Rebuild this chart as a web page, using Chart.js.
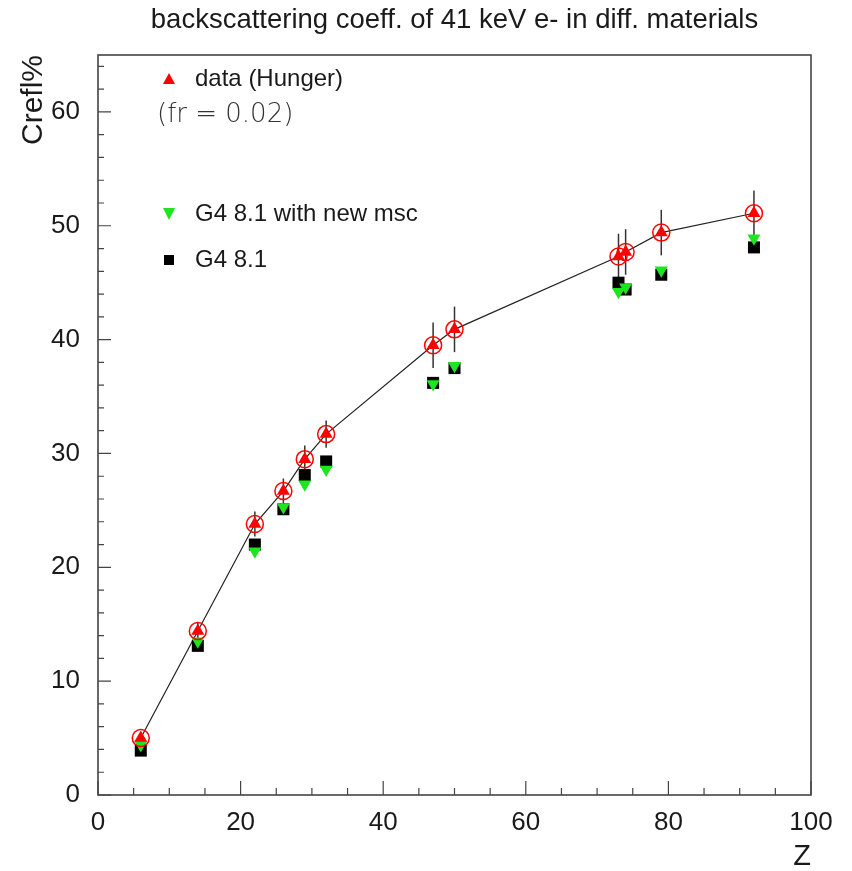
<!DOCTYPE html>
<html>
<head>
<meta charset="utf-8">
<script src="https://cdn.jsdelivr.net/npm/chart.js@4/dist/chart.umd.min.js"></script>
<style>
  html, body { margin: 0; padding: 0; background: #ffffff; }
  #wrap { width: 852px; height: 871px; }
</style>
</head>
<body>
<div id="wrap"><canvas id="c" width="852" height="871"></canvas></div>
<script>
// ---- data ----
const Z = [6, 14, 22, 26, 29, 32, 47, 50, 73, 74, 79, 92];
const dataHunger = [5.0, 14.4, 23.8, 26.7, 29.5, 31.7, 39.5, 40.9, 47.3, 47.7, 49.4, 51.1];
const dataErr    = [0.5, 0.7, 1.1, 1.1, 1.2, 1.2, 2.0, 2.0, 2.0, 2.0, 2.0, 2.0];
const g4NewMsc   = [4.4, 13.5, 21.4, 25.3, 27.3, 28.6, 36.1, 37.7, 44.2, 44.6, 46.1, 48.9];
const g4Old      = [3.9, 13.1, 22.0, 25.1, 28.1, 29.3, 36.2, 37.5, 45.0, 44.4, 45.7, 48.1];
const xTicks = [0, 20, 40, 60, 80, 100];
const yTicks = [0, 10, 20, 30, 40, 50, 60];
const titleText = 'backscattering coeff. of 41 keV e- in diff. materials';
const legendLabels = ['data (Hunger)', '(fr = 0.02)', 'G4 8.1 with new msc', 'G4 8.1'];

const pts = (ys) => Z.map((z, i) => ({x: z, y: ys[i]}));
const FONT = '"Liberation Sans", Arial, Helvetica, sans-serif';
const RED = '#ff0000', GREEN = '#1ee61e', BLACK = '#000000';

const framePlugin = {
  id: 'frame',
  beforeDatasetsDraw(chart) {
    const {ctx} = chart;
    const xs = chart.scales.x, ys = chart.scales.y;
    // error bars
    ctx.save();
    ctx.strokeStyle = '#333';
    ctx.lineWidth = 1.5;
    Z.forEach((z, i) => {
      const px = xs.getPixelForValue(z);
      ctx.beginPath();
      ctx.moveTo(px, ys.getPixelForValue(dataHunger[i] - dataErr[i]));
      ctx.lineTo(px, ys.getPixelForValue(dataHunger[i] + dataErr[i]));
      ctx.stroke();
    });
    ctx.restore();
  },
  afterDraw(chart) {
    const {ctx, chartArea: a} = chart;
    const xs = chart.scales.x, ys = chart.scales.y;
    ctx.save();
    ctx.strokeStyle = '#444';
    ctx.lineWidth = 1.6;
    ctx.strokeRect(a.left, a.top, a.right - a.left, a.bottom - a.top);
    ctx.lineWidth = 1.2;
    ctx.beginPath();
    for (let v = 0; v <= 100; v += 5) {
      const px = xs.getPixelForValue(v);
      const len = (v % 20 === 0) ? 14 : 7;
      ctx.moveTo(px, a.bottom);
      ctx.lineTo(px, a.bottom - len);
    }
    for (let v = 0; v <= 64; v += 2) {
      const py = ys.getPixelForValue(v);
      const len = (v % 10 === 0) ? 13 : 6;
      ctx.moveTo(a.left, py);
      ctx.lineTo(a.left + len, py);
    }
    ctx.stroke();

    // legend
    const lx = a.left + 71, tx = a.left + 97;
    const rows = [a.top + 24, a.top + 60, a.top + 159, a.top + 205];
    ctx.fillStyle = RED;
    ctx.beginPath();
    ctx.moveTo(lx, rows[0] - 6); ctx.lineTo(lx + 6, rows[0] + 5); ctx.lineTo(lx - 6, rows[0] + 5);
    ctx.closePath(); ctx.fill();
    ctx.fillStyle = GREEN;
    ctx.beginPath();
    ctx.moveTo(lx - 6, rows[2] - 6); ctx.lineTo(lx + 6, rows[2] - 6); ctx.lineTo(lx, rows[2] + 6);
    ctx.closePath(); ctx.fill();
    ctx.fillStyle = BLACK;
    ctx.fillRect(lx - 5, rows[3] - 5, 10, 10);

    ctx.fillStyle = '#1a1a1a';
    ctx.textBaseline = 'middle';
    ctx.textAlign = 'left';
    ctx.font = '24px ' + FONT;
    ctx.fillText(legendLabels[0], tx, rows[0]);
    ctx.fillText(legendLabels[2], tx, rows[2]);
    ctx.fillText(legendLabels[3], tx, rows[3]);
    ctx.font = '200 26px "DejaVu Sans", sans-serif';
    ctx.fillStyle = '#333';
    ctx.fillText(legendLabels[1], a.left + 59, rows[1]);
    ctx.restore();
  }
};

new Chart(document.getElementById('c'), {
  type: 'scatter',
  data: {
    datasets: [
      { label: legendLabels[0], data: pts(dataHunger), pointStyle: 'triangle', pointRadius: 7.5,
        backgroundColor: RED, borderColor: RED, borderWidth: 0, order: 0 },
      { label: 'circles', data: pts(dataHunger), pointStyle: 'circle', pointRadius: 8.5,
        backgroundColor: 'rgba(0,0,0,0)', borderColor: RED, borderWidth: 1.5, order: 1 },
      { label: legendLabels[2], data: pts(g4NewMsc), pointStyle: 'triangle', rotation: 180, pointRadius: 7.5,
        backgroundColor: GREEN, borderColor: GREEN, borderWidth: 0, order: 2 },
      { label: legendLabels[3], data: pts(g4Old), pointStyle: 'rect', pointRadius: 8.5,
        backgroundColor: BLACK, borderColor: BLACK, borderWidth: 0, order: 3 },
      { type: 'line', label: 'line', data: pts(dataHunger), showLine: true, borderColor: '#222',
        borderWidth: 1.2, pointRadius: 0, fill: false, tension: 0, order: 4 }
    ]
  },
  options: {
    responsive: false,
    animation: false,
    events: [],
    layout: { padding: { left: 0, right: 41, top: 0, bottom: 0 } },
    plugins: {
      legend: { display: false },
      tooltip: { enabled: false },
      title: {
        display: true, text: titleText, fullSize: false, color: '#1a1a1a',
        font: { family: FONT, size: 27.5, weight: 'normal', lineHeight: 1.2 },
        padding: { top: 4, bottom: 18 }
      }
    },
    scales: {
      x: {
        type: 'linear', min: 0, max: 100,
        afterFit: (s) => { s.height = 76; },
        afterBuildTicks: (s) => { s.ticks = xTicks.map(v => ({value: v})); },
        grid: { display: false, drawTicks: false },
        border: { display: false },
        ticks: { color: '#1a1a1a', font: { family: FONT, size: 26 }, padding: 12, maxRotation: 0 },
        title: { display: true, text: 'Z', align: 'end', color: '#1a1a1a',
          font: { family: FONT, size: 29, lineHeight: 1 }, padding: { top: 0, bottom: 0 } }
      },
      y: {
        type: 'linear', min: 0, max: 65,
        afterFit: (s) => { s.width = 98; },
        afterBuildTicks: (s) => { s.ticks = yTicks.map(v => ({value: v})); },
        grid: { display: false, drawTicks: false },
        border: { display: false },
        ticks: { color: '#1a1a1a', font: { family: FONT, size: 26 }, padding: 18 },
        title: { display: true, text: 'Crefl%', align: 'end', color: '#1a1a1a',
          font: { family: FONT, size: 30, lineHeight: 1.2 }, padding: { top: 16, bottom: 0 } }
      }
    }
  },
  plugins: [framePlugin]
});
</script>
</body>
</html>
